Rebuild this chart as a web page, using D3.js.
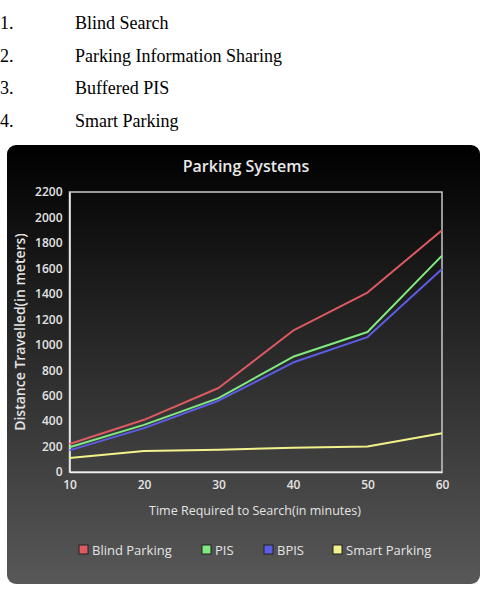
<!DOCTYPE html>
<html>
<head>
<meta charset="utf-8">
<style>
  body { margin: 0; background: #fff; }
  svg { display: block; }
</style>
</head>
<body>
<div id="chart"></div>

<script src="https://d3js.org/d3.v7.min.js"></script>
<script>
// data
var listItems = ["Blind Search", "Parking Information Sharing", "Buffered PIS", "Smart Parking"];
var times = [10, 20, 30, 40, 50, 60];
var blind = [220, 410, 660, 1110, 1410, 1900];
var pis = [195, 370, 580, 905, 1100, 1700];
var bpis = [170, 345, 560, 860, 1060, 1595];
var smart = [110, 165, 175, 190, 200, 305];
var seriesNames = ["Blind Parking", "PIS", "BPIS", "Smart Parking"];
var seriesColors = ["#dc5a60", "#80ea80", "#5c5ce6", "#f2f28c"];
var yTicks = d3.range(0, 2201, 200);

var W = 482, H = 590;
var svg = d3.select("#chart").append("svg")
    .attr("width", W)
    .attr("height", H);

// numbered list above the chart
var list = svg.append("g").attr("font-family", "'Liberation Serif', 'Times New Roman', serif")
    .attr("font-size", 18).attr("fill", "#000");
listItems.forEach(function(t, i) {
  var yy = 29 + i * 32.7;
  list.append("text").attr("x", 0).attr("y", yy).text((i + 1) + ".");
  list.append("text").attr("x", 75).attr("y", yy).text(t);
});

// panel background
var defs = svg.append("defs");
var grad = defs.append("linearGradient").attr("id", "bg")
    .attr("x1", 0).attr("y1", 0).attr("x2", 0).attr("y2", 1);
grad.append("stop").attr("offset", "0%").attr("stop-color", "#000");
grad.append("stop").attr("offset", "100%").attr("stop-color", "#585858");

svg.append("rect")
    .attr("x", 7).attr("y", 145)
    .attr("width", 473).attr("height", 439)
    .attr("rx", 9)
    .attr("fill", "url(#bg)");

var font = "'Open Sans', 'DejaVu Sans', sans-serif";

svg.append("text")
    .attr("x", 246).attr("y", 172)
    .attr("text-anchor", "middle")
    .attr("font-family", font)
    .attr("font-size", 16).attr("font-weight", 600)
    .attr("fill", "#e8e8e8")
    .text("Parking Systems");

var margin = {left: 69.5, right: 442, top: 192, bottom: 472};

var x = d3.scaleLinear().domain([10, 60]).range([margin.left, margin.right]);
var y = d3.scaleLinear().domain([0, 2200]).range([margin.bottom, margin.top]);

// plot frame
svg.append("rect")
    .attr("x", margin.left).attr("y", margin.top)
    .attr("width", margin.right - margin.left)
    .attr("height", margin.bottom - margin.top)
    .attr("fill", "none")
    .attr("stroke", "#c8c8c8").attr("stroke-width", 1.5);

// axes
var yAxis = svg.append("g")
    .attr("transform", "translate(" + margin.left + ",0)")
    .call(d3.axisLeft(y).tickValues(yTicks).tickSize(0).tickPadding(7).tickFormat(d3.format("d")));
yAxis.select(".domain").attr("stroke", "#f0f0f0").attr("stroke-width", 1.5);

var xAxis = svg.append("g")
    .attr("transform", "translate(0," + margin.bottom + ")")
    .call(d3.axisBottom(x).tickValues(times).tickSize(0).tickPadding(8).tickFormat(d3.format("d")));
xAxis.select(".domain").attr("stroke", "#f0f0f0").attr("stroke-width", 1.5);

svg.selectAll(".tick text")
    .attr("font-family", font)
    .attr("font-size", 12)
    .attr("font-weight", 600)
    .attr("fill", "#e4e4e4");

// axis titles
svg.append("text")
    .attr("x", 255).attr("y", 515)
    .attr("text-anchor", "middle")
    .attr("font-family", font).attr("font-size", 12.5)
    .attr("fill", "#e4e4e4")
    .text("Time Required to Search(in minutes)");

svg.append("text")
    .attr("transform", "translate(25,332) rotate(-90)")
    .attr("text-anchor", "middle")
    .attr("font-family", font).attr("font-size", 14).attr("font-weight", 600)
    .attr("fill", "#e4e4e4")
    .text("Distance Travelled(in meters)");

// lines
var allSeries = [blind, pis, bpis, smart];
var line = d3.line()
    .x(function(d, i) { return x(times[i]); })
    .y(function(d) { return y(d); });

svg.selectAll(".series")
    .data(allSeries)
    .enter()
    .append("path")
      .attr("class", "series")
      .attr("d", line)
      .attr("fill", "none")
      .attr("stroke", function(d, i) { return seriesColors[i]; })
      .attr("stroke-width", 2)
      .attr("stroke-linejoin", "round");

// legend
var legendX = [79, 202, 264, 333];
var legend = svg.selectAll(".legend")
    .data(seriesNames)
    .enter()
    .append("g")
      .attr("transform", function(d, i) { return "translate(" + legendX[i] + ",550)"; });

legend.append("rect")
    .attr("x", 0).attr("y", -5)
    .attr("width", 9).attr("height", 9)
    .attr("fill", function(d, i) { return seriesColors[i]; })
    .attr("stroke", "#222").attr("stroke-width", 1);

legend.append("text")
    .attr("x", 13).attr("y", 4.5)
    .attr("font-family", font).attr("font-size", 13)
    .attr("fill", "#e4e4e4")
    .text(function(d) { return d; });
</script>
</body>
</html>
